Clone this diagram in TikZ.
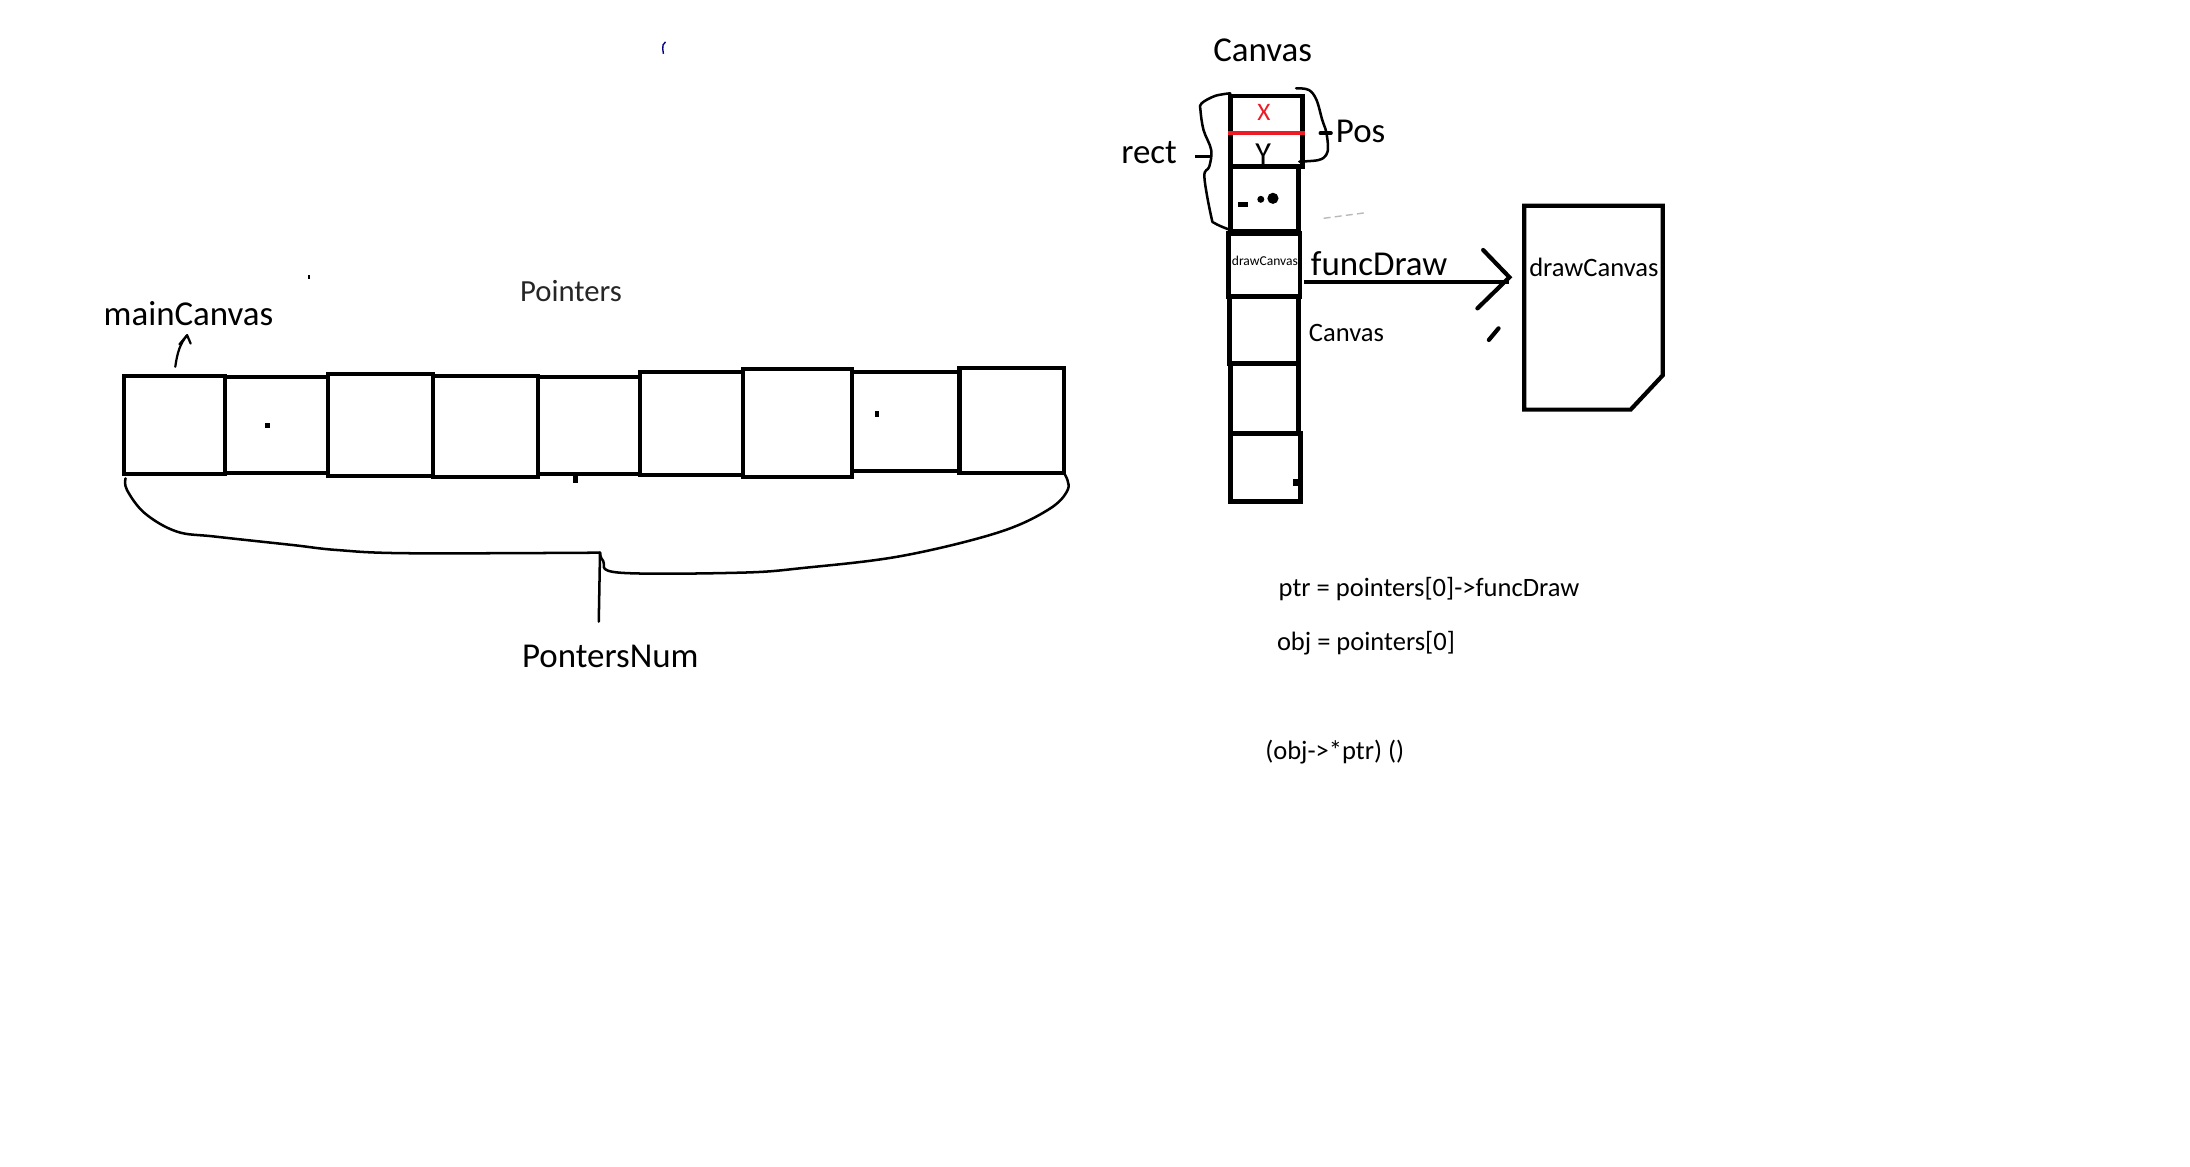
\documentclass[tikz,border=0pt]{standalone}
\usepackage{fontspec}
\setmainfont{Carlito}
\usetikzlibrary{calc}
\definecolor{paintred}{RGB}{237,28,36}
\begin{document}
\begin{tikzpicture}[x=1pt,y=-1pt,
  cell/.style={draw, line width=3pt, inner sep=0pt},
  slot/.style={draw, line width=3.3pt, inner sep=0pt},
  txt/.style={inner sep=0pt, anchor=base west},
  bigtxt/.style={txt, font=\fontsize{25}{30}\selectfont},
  midtxt/.style={txt, font=\fontsize{19}{23}\selectfont},
  brace/.style={line width=1.8pt, line cap=round, line join=round},
  thick stroke/.style={line width=3pt, line cap=round}
]
\useasboundingbox (0,0) rectangle (1568,835);

% ---- array of pointers ----
\node[cell, minimum width=72pt,   minimum height=70.2pt] (p1) at (125,304.3) {};
\node[cell, minimum width=73.6pt, minimum height=69.2pt] (p2) at (197.8,304.3) {};
\node[cell, minimum width=75.4pt, minimum height=72.8pt] (p3) at (272.3,304.4) {};
\node[cell, minimum width=75pt,   minimum height=72.1pt] (p4) at (347.5,305.25) {};
\node[cell, minimum width=73pt,   minimum height=69.7pt] (p5) at (421.5,304.55) {};
\node[cell, minimum width=74pt,   minimum height=74pt]   (p6) at (495,303.1) {};
\node[cell, minimum width=78pt,   minimum height=77.6pt] (p7) at (571,303) {};
\node[cell, minimum width=77pt,   minimum height=71.1pt] (p8) at (648.5,301.65) {};
\node[cell, minimum width=75pt,   minimum height=74.7pt] (p9) at (724.5,301.05) {};

% small specks in the cells
\fill (189.5,302.5) rectangle (193,306.5);
\fill (626.5,294.5) rectangle (629.5,298.5);
\fill (410.5,339) rectangle (413.5,346);
\fill (220.5,197) rectangle (222,199.5);
\draw[line width=1pt, blue!50!black] (476.5,30) .. controls (474.5,31) and (474.5,33) .. (474.5,35) -- (475,38.5);

\node[bigtxt] (main) at (74,233) {mainCanvas};
\node[txt, font=\fontsize{22}{26}\selectfont, text=black!85] (ptrs) at (372.2,215.8) {Pointers};

% little arrow under mainCanvas
\draw[line width=1.6pt, line cap=round] (125.5,262.6) .. controls (127,252) and (129,246) .. (134,240);
\draw[line width=1.6pt, line cap=round, line join=round] (128.5,246.5) -- (134,240) -- (136.5,246);

% brace under the array
\draw[brace] plot[smooth, tension=0.6] coordinates {(89.9,342.5) (90.9,350.8) (103.7,367.5) (126.6,380.6) (154.2,384.2) (209.3,390.2) (241.4,393.8) (291.9,396.1) (429.6,395.7)};
\draw[brace] plot[smooth, tension=0.6] coordinates {(429.6,395.7) (431.9,401.7) (443.4,410) (530.6,410) (576.5,406.5) (645.3,398.1) (714.2,381.4) (750.9,364.7) (764.6,350.4) (762.4,339.7)};
\draw[brace] (429.6,395.7) -- (428.7,445.1);
\node[bigtxt] (num) at (373.6,478.1) {PontersNum};

% ---- Canvas object layout ----
\node[bigtxt] (ctitle) at (868.5,44.2) {Canvas};
\node[slot, minimum width=51.5pt, minimum height=50.6pt] (c1) at (906.65,94) {};
\node[slot, minimum width=48.7pt, minimum height=46.6pt] (c2) at (905.25,142.6) {};
\node[slot, minimum width=51.2pt, minimum height=45.4pt] (c3) at (905.1,189.7) {};
\node[slot, minimum width=49.3pt, minimum height=47.7pt] (c4) at (905,236.25) {};
\node[slot, minimum width=48.7pt, minimum height=50.1pt] (c5) at (905.25,285.15) {};
\node[slot, minimum width=49.9pt, minimum height=49pt]   (c6) at (906.15,334.7) {};

\draw[paintred, line width=3pt] ($(c1.west)+(0,1.4)$) -- ($(c1.east)+(0,1.4)$);
\node[inner sep=0pt, font=\fontsize{18}{20}\selectfont, text=paintred] (xl) at (905,80.5) {X};
\node[txt, font=\fontsize{23}{26}\selectfont] (yl) at (898.7,118) {Y};

% ellipsis marks in the second slot
\fill (886.2,144.8) rectangle (893.6,147.9);
\fill (902.7,142.7) circle[radius=2.5pt];
\fill (911.4,142) circle[radius=4pt];
\fill (926,343) rectangle (930.5,348);

\node[txt, font=\fontsize{9.7}{11}\selectfont] (dcs) at (881.8,190.4) {drawCanvas};

% rect brace
\draw[brace] plot[smooth, tension=0.6] coordinates {(880.9,66.8) (869.9,68.7) (860.3,74) (859.5,78.8) (861.7,93.1) (867.2,107.4) (865.8,119.3) (862.3,126.5) (867.2,155.1) (869.9,159.9) (880.9,164.7)};
\draw[line width=2.2pt] (855.6,112.2) -- (867,112.2);
\node[bigtxt] (rect) at (802.6,117.2) {rect};

% Pos brace
\draw[brace] plot[smooth, tension=0.6] coordinates {(928,63.2) (937.1,64.4) (942.6,71.6) (946.7,85.9) (949.5,94.3) (950.8,105) (949.5,111) (944,114.6) (930.3,115.7)};
\draw[line width=2.5pt, line cap=round] (945.3,95.4) -- (953,95.4);
\node[bigtxt] (pos) at (956.3,102.2) {Pos};

\draw[gray!55, line width=1pt, dash pattern=on 5pt off 3pt] (947.7,156.3) -- (977.8,152.3);

% function pointer arrow
\node[bigtxt] (fd) at (938.4,197.6) {funcDraw};
\node[midtxt] (cv) at (937,244.6) {Canvas};
\coordinate (tip) at (1080.7,198.5);
\draw[line width=3pt] ($(c3.east)+(1.5,12)$) -- ($(tip)+(0,3.2)$);
\draw[thick stroke, line join=miter] ($(tip)+(-18.8,-19.5)$) -- (tip) -- ($(tip)+(-22.9,22.3)$);
\draw[thick stroke] (1066,243.4) -- (1072.9,235.1);

% member function body
\node[inner sep=0pt, minimum width=98.8pt, minimum height=145.6pt] (doc) at (1140.9,220.3) {};
\draw[line width=3pt, line join=miter] (doc.north west) -- (doc.north east) -- ($(doc.south east)+(0,-24.6)$) -- ($(doc.south east)+(-23,0)$) -- (doc.south west) -- cycle;
\node[midtxt] (dcb) at (1094.7,198.1) {drawCanvas};

% call syntax
\node[midtxt] (l1) at (915.3,427.2) {ptr = pointers[0]->funcDraw};
\node[midtxt] (l2) at (914.1,465.4) {obj = pointers[0]};
\node[midtxt] (l3) at (905.7,543.5) {(obj->*ptr) ()};
\end{tikzpicture}
\end{document}
